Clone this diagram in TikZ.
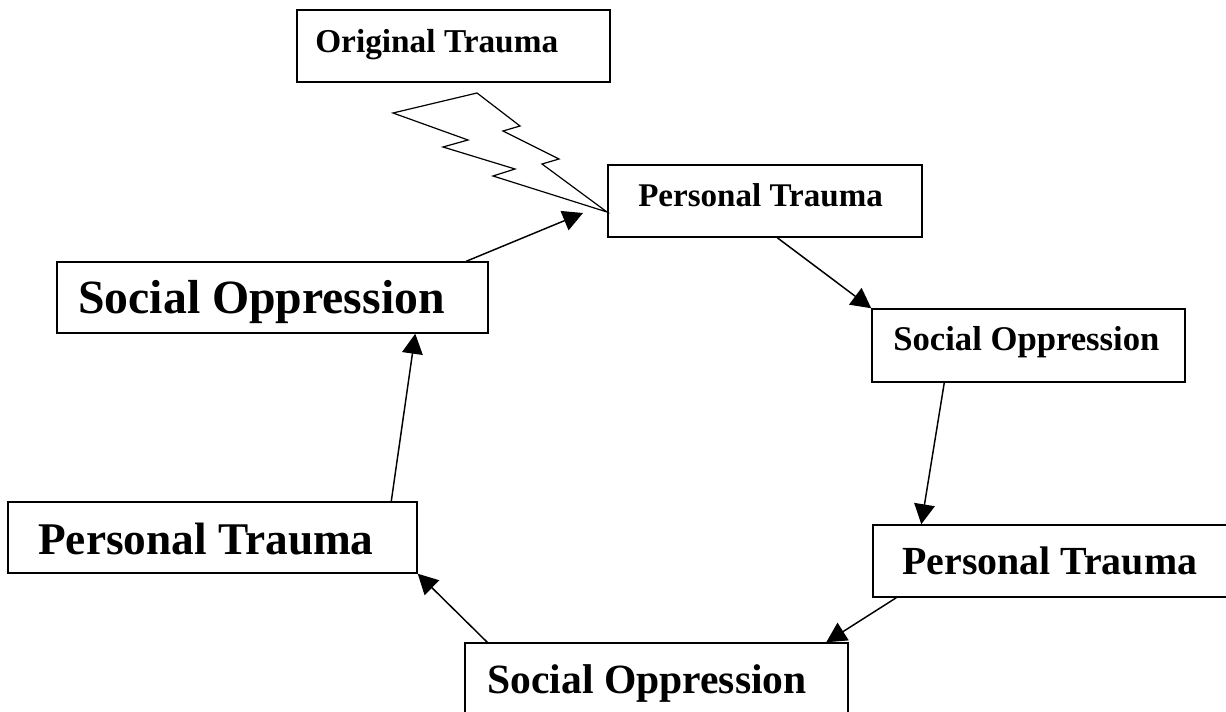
\documentclass[tikz,border=0pt]{standalone}
\usepackage{fontspec}
\setmainfont{Liberation Serif}
\usetikzlibrary{arrows.meta,fit,calc}
\tikzset{
  box/.style={draw=black, line width=1.1pt, inner sep=0pt, fill=white},
  lbl/.style={anchor=base west, inner sep=0pt, font=\bfseries},
  conn/.style={draw=black, line width=1.1pt, -{Triangle[length=15pt,width=15.5pt]}},
  bolt/.style={draw=black, line width=0.9pt, line join=miter}
}
\newcommand{\fs}[1]{\fontsize{#1}{#1}\selectfont}
\begin{document}
\begin{tikzpicture}[x=0.75pt,y=-0.75pt]
\useasboundingbox (0,0) rectangle (1226,712);
\clip (0,0) rectangle (1226,712);
% boxes
\node[box, fit={(297,10) (610,82)}] (ot) {};
\node[box, fit={(608,165) (922,237)}] (pt1) {};
\node[box, fit={(872,309) (1185,382)}] (so1) {};
\node[box, fit={(873,525) (1240,597)}] (pt2) {};
\node[box, fit={(465,643) (848,716)}] (so2) {};
\node[box, fit={(8,502) (417,573)}] (pt3) {};
\node[box, fit={(57,262) (488,333)}] (so3) {};
% texts
\node[lbl, font=\bfseries\fs{25}] (otl) at (315,53) {Original Trauma};
\node[lbl, font=\bfseries\fs{24.8}] (pt1l) at (638,207) {Personal Trauma};
\node[lbl, font=\bfseries\fs{26}] (so1l) at (893,351) {Social Oppression};
\node[lbl, font=\bfseries\fs{29.9}] (pt2l) at (902,574) {Personal Trauma};
\node[lbl, font=\bfseries\fs{31.2}] (so2l) at (487,693) {Social Oppression};
\node[lbl, font=\bfseries\fs{34}] (pt3l) at (38,554) {Personal Trauma};
\node[lbl, font=\bfseries\fs{35.8}] (so3l) at (78,314) {Social Oppression};
% lightning bolt
\draw[bolt] (393,113) -- (477,93) -- (520,126) -- (503,131) -- (559,159) -- (542,164) -- (607,212) -- (493,176) -- (515,169) -- (443,147) -- (468,140) -- cycle;
% connectors
\coordinate (e1) at (583,213);
\draw[conn] ($(so3.north west)+(410,0)$) -- (e1);
\draw[conn] ($(pt1.south west)+(170,0)$) -- (so1.north west);
\draw[conn] ($(so1.south west)+(73,0)$) -- ($(pt2.north west)+(49,0)$);
\draw[conn] ($(pt2.south west)+(24,0)$) -- ($(so2.north west)+(362,0)$);
\draw[conn] ($(so2.north west)+(23,0)$) -- (pt3.south east);
\draw[conn] ($(pt3.north west)+(384,0)$) -- ($(so3.south west)+(359,0)$);
\end{tikzpicture}
\end{document}
